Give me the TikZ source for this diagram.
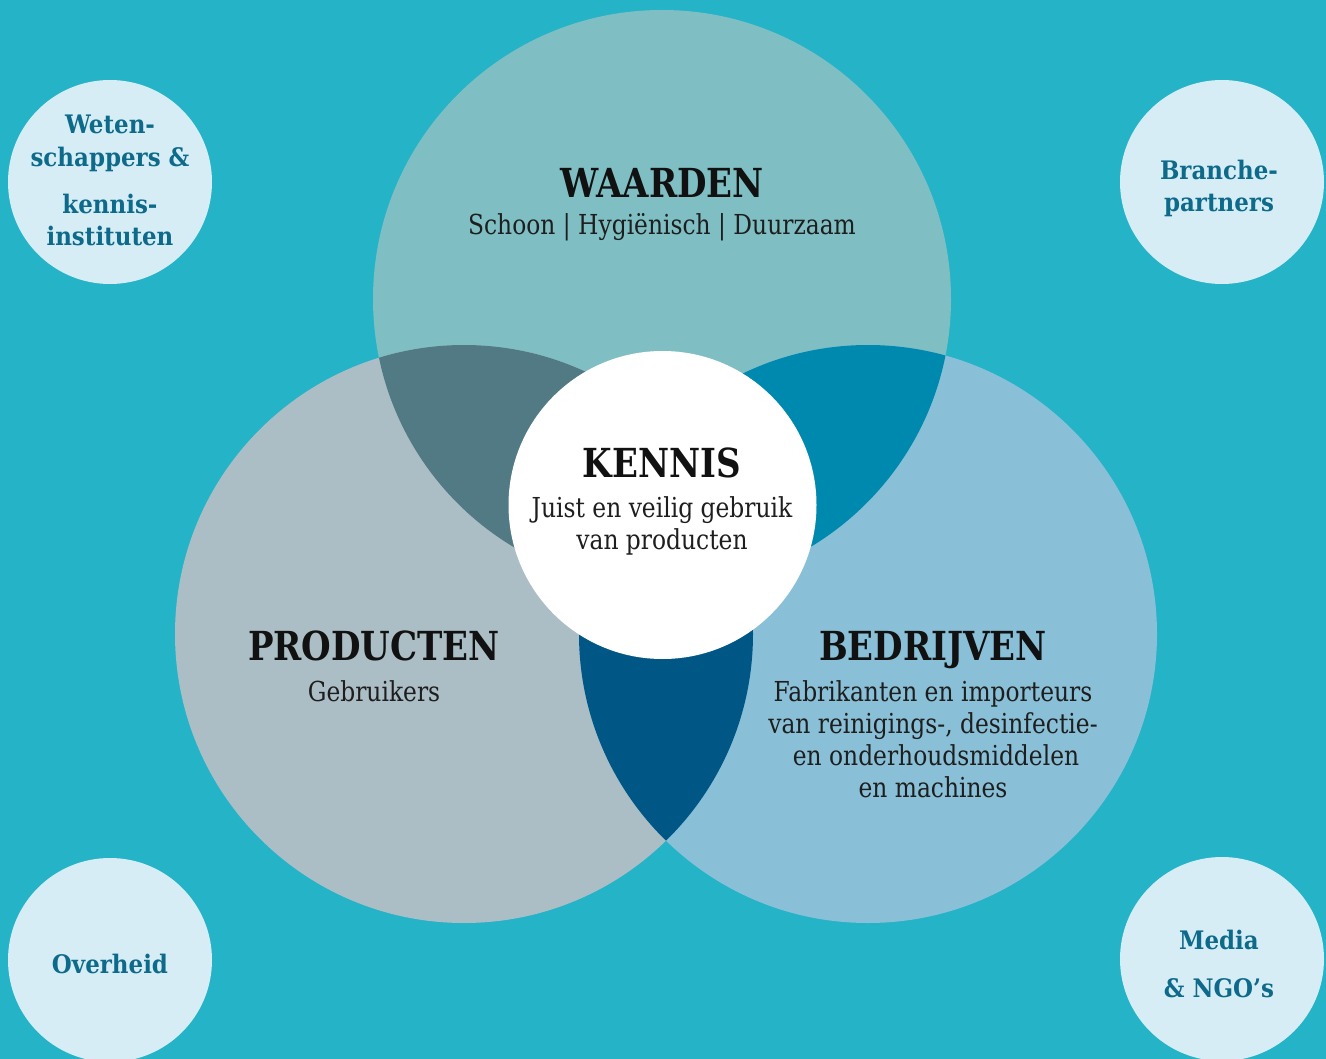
\documentclass[tikz,border=0pt]{standalone}
\usepackage{fontspec}
\setmainfont{DejaVu Serif}
\newfontfamily\hfont{DejaVu Serif}[UprightFont={* Bold},FakeStretch=0.85]
\newfontfamily\sfont{DejaVu Serif}[UprightFont={* Bold},FakeStretch=0.9]
\newfontfamily\bfont{DejaVu Serif}[FakeStretch=0.85]
\definecolor{bgc}{HTML}{25B3C7}
\definecolor{topc}{HTML}{7FBFC4}
\definecolor{leftc}{HTML}{ACBEC5}
\definecolor{rightc}{HTML}{89C0D7}
\definecolor{tlc}{HTML}{527A84}
\definecolor{trc}{HTML}{0089AF}
\definecolor{botc}{HTML}{005786}
\definecolor{smallc}{HTML}{D6EDF5}
\definecolor{smalltxt}{HTML}{0D6A8A}
\definecolor{txt}{HTML}{111111}
\definecolor{btxt}{HTML}{1E1E1E}
\tikzset{
  bigcircle/.style={circle,minimum size=578pt,inner sep=0pt},
  smallcircle/.style={circle,fill=smallc,minimum size=204pt,inner sep=0pt},
  heading/.style={anchor=base,inner sep=0pt,text=txt,font=\hfont\fontsize{40}{44}\selectfont},
  body/.style={anchor=base,inner sep=0pt,text=btxt,font=\bfont\fontsize{27.5}{32}\selectfont},
  smalltext/.style={anchor=base,inner sep=0pt,text=smalltxt,font=\sfont\fontsize{25.5}{30}\selectfont}
}
\begin{document}
\begin{tikzpicture}[x=1pt,y=-1pt]
\fill[bgc] (0,0) rectangle (1326,1059);
\useasboundingbox (0,0) rectangle (1326,1059);
\coordinate (cT) at (662,299);
\coordinate (cL) at (464,634);
\coordinate (cR) at (868,634);
% big circles
\node[bigcircle,fill=topc] (waarden) at (cT) {};
\node[bigcircle,fill=leftc] (producten) at (cL) {};
\node[bigcircle,fill=rightc] (bedrijven) at (cR) {};
% lenses
\begin{scope}
  \clip (cT) circle[radius=289pt];
  \fill[tlc] (cL) circle[radius=289pt];
  \fill[trc] (cR) circle[radius=289pt];
\end{scope}
\begin{scope}
  \clip (cL) circle[radius=289pt];
  \fill[botc] (cR) circle[radius=289pt];
\end{scope}
% centre
\node[circle,fill=white,minimum size=308pt,inner sep=0pt] (kennis) at (662.5,505) {};
% small circles
\node[smallcircle] (wet) at (110,182) {};
\node[smallcircle] (bra) at (1222,182) {};
\node[smallcircle] (ove) at (110,960) {};
\node[smallcircle] (med) at (1222,959) {};
% texts
\node[heading] (t1) at (662,198) {WAARDEN};
\node[body] (t2) at (662,235) {Schoon | Hygiënisch | Duurzaam};
\node[heading] (t3) at (662,477) {KENNIS};
\node[body] (t4) at (662,517) {Juist en veilig gebruik};
\node[body] (t5) at (662,549) {van producten};
\node[heading] (t6) at (374,660) {PRODUCTEN};
\node[body] (t7) at (374,701) {Gebruikers};
\node[heading] (t8) at (933,660) {BEDRIJVEN};
\node[body] (t9) at (933,701) {Fabrikanten en importeurs};
\node[body] (t10) at (933,733) {van reinigings-, desinfectie-};
\node[body] (t11) at (936,765) {en onderhoudsmiddelen};
\node[body] (t12) at (933,797) {en machines};
\node[smalltext] (s1) at (110,134) {Weten-};
\node[smalltext] (s2) at (110,167) {schappers \&};
\node[smalltext] (s3) at (110,214) {kennis-};
\node[smalltext] (s4) at (110,246) {instituten};
\node[smalltext] (s5) at (1219,180) {Branche-};
\node[smalltext] (s6) at (1219,212) {partners};
\node[smalltext] (s7) at (110,973) {Overheid};
\node[smalltext] (s8) at (1219,949) {Media};
\node[smalltext] (s9) at (1219,997) {\& NGO’s};
\end{tikzpicture}
\end{document}
